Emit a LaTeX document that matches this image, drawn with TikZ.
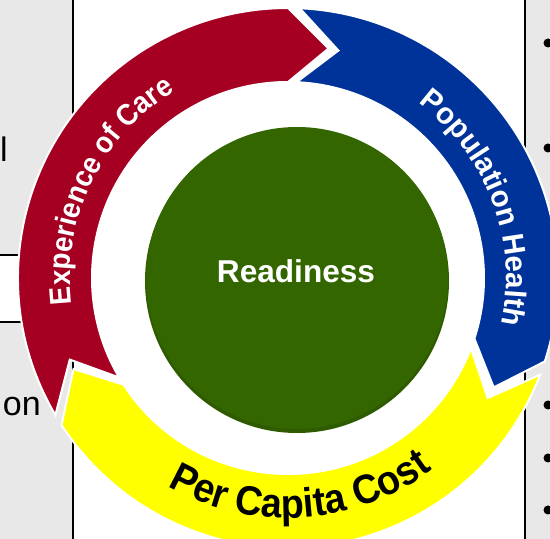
\documentclass[tikz,border=0pt]{standalone}
\usepackage{fontspec}
\setmainfont{Liberation Sans}
\newfontfamily\carefont[FakeStretch=0.92]{Liberation Sans}
\newfontfamily\popfont[FakeStretch=0.98]{Liberation Sans}
\newfontfamily\costfont[FakeStretch=0.92]{Liberation Sans}
\usepackage{tikz}
\usetikzlibrary{decorations.text}

\definecolor{careRed}{RGB}{165,0,33}
\definecolor{popBlue}{RGB}{0,51,153}
\definecolor{costYellow}{RGB}{255,255,0}
\definecolor{readyGreen}{RGB}{52,102,0}
\definecolor{tableGray}{RGB}{232,232,232}

% one chevron piece of the ring: colour, start angle, end angle (clockwise)
\newcommand{\outR}{270}
\newcommand{\inR}{196}
\newcommand{\midR}{233}
\newcommand{\cyclearrow}[3]{%
  \filldraw[segment,fill=#1]
    (#2:\outR) arc[start angle=#2,end angle=#3,radius=\outR]
    -- (#3-10:\midR) -- (#3:\inR)
    arc[start angle=#3,end angle=#2,radius=\inR]
    -- (#2-10:\midR) -- cycle;}

\begin{document}
\begin{tikzpicture}
  [
  x=1pt,y=1pt,
  rule/.style={black,line width=1.4pt},
  cell/.style={fill=tableGray},
  segment/.style={draw=white,line width=2pt},
  dot/.style={circle,fill=black,inner sep=0pt,minimum size=9pt},
  cuttext/.style={inner sep=0pt,font=\fontsize{34}{40}\selectfont},
  hub/.style={circle,fill=readyGreen,inner sep=0pt},
  ringlabel/.style={decorate,decoration={text along path,text align=center,#1}}
  ]
  \clip (0,0) rectangle (550,539);

  % table behind the cycle
  \fill[cell] (0,0) rectangle (73,539);
  \fill[white] (0,217) rectangle (73,284);
  \fill[cell] (525,0) rectangle (550,539);
  \draw[rule] (0,284) -- (73,284);
  \draw[rule] (0,217) -- (73,217);
  \draw[rule] (73,0) -- (73,539);
  \draw[rule] (525,0) -- (525,539);
  \node[cuttext,anchor=base west] (cellA) at (0,377) {l};
  \node[cuttext,anchor=base east] (cellB) at (41,123) {on};
  \foreach \y [count=\i] in {496,391,134,81,29}
    \node[dot] (bullet\i) at (548,\y) {};

  % the three arrows
  \begin{scope}[shift={(288,261)}]
    \cyclearrow{careRed}{210.5}{90}
    \cyclearrow{popBlue}{87.5}{-18}
    \cyclearrow{costYellow}{-21}{-147}

    \path[ringlabel={text color=white,
      text={|\carefont\bfseries\fontsize{30}{32}\selectfont|Experience of Care}}]
      (204:218) arc[start angle=204,end angle=104,radius=218];
    \path[ringlabel={text color=white,
      text={|\popfont\bfseries\fontsize{30}{32}\selectfont|Population Health}}]
      (70:218) arc[start angle=70,end angle=-29,radius=218];
    \path[ringlabel={text color=black,
      text={|\costfont\bfseries\fontsize{41}{43}\selectfont|Per Capita Cost}}]
      (223.5:240) arc[start angle=223.5,end angle=323.5,radius=240];
  \end{scope}

  % centre
  \node[hub,fill=readyGreen!88!black,minimum size=304pt] (hubrim) at (297,258) {};
  \node[hub,minimum size=302pt] (hub) at (297,261) {};
  \node[anchor=base,text=white,inner sep=0pt,
    font=\bfseries\fontsize{31.6}{34}\selectfont] (ready) at (296,256) {Readiness};
\end{tikzpicture}
\end{document}
